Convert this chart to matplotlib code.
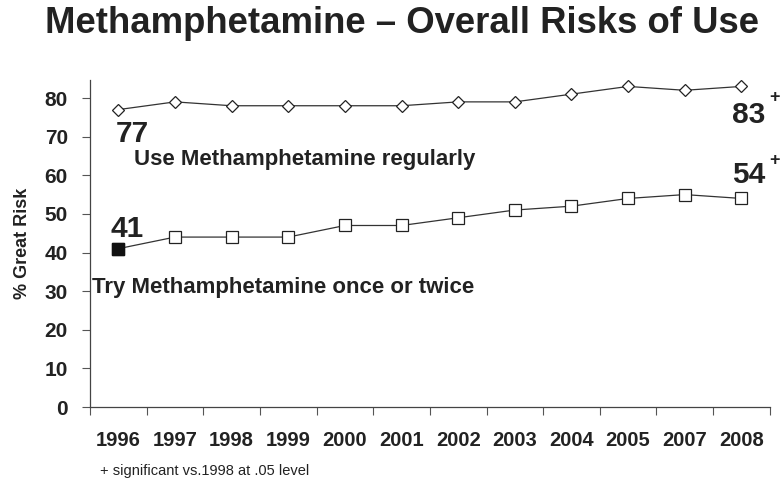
import matplotlib
matplotlib.use("Agg")
import matplotlib.pyplot as plt
import numpy as np

plt.rcParams['font.family'] = ['Liberation Sans', 'DejaVu Sans']

years = ["1996", "1997", "1998", "1999", "2000", "2001", "2002", "2003", "2004", "2005", "2007", "2008"]
regularly = [77, 79, 78, 78, 78, 78, 79, 79, 81, 83, 82, 83]
once_twice = [41, 44, 44, 44, 47, 47, 49, 51, 52, 54, 55, 54]

fig = plt.figure(figsize=(7.83, 4.84), dpi=100)
ax = fig.add_axes([0.115, 0.159, 0.868, 0.676])
x = np.arange(len(years))

ax.plot(x, regularly, color='#333333', lw=0.9, marker='D', ms=6.2, mfc='white', mec='#222222', mew=0.9)
ax.plot(x, once_twice, color='#333333', lw=0.9, marker='s', ms=8, mfc='white', mec='#222222', mew=0.9)
ax.plot(x[0], once_twice[0], marker='s', ms=8.3, mfc='#111111', mec='#111111', ls='none')

ax.set_xlim(-0.5, len(years) - 0.5)
ax.set_ylim(0, 84.7)
ax.set_yticks(range(0, 90, 10))
ax.set_yticklabels([str(v) for v in range(0, 90, 10)], fontsize=15, fontweight='bold', color='#222222')
ax.set_xticks(np.arange(len(years) + 1) - 0.5)
ax.set_xticklabels([])
ax.set_xticks(x, minor=True)
ax.set_xticklabels(years, minor=True, fontsize=14.5, fontweight='bold', color='#222222')
ax.tick_params(axis='x', which='minor', length=0, pad=17)
ax.tick_params(axis='x', which='major', length=6, direction='out', color='#555555')
ax.tick_params(axis='y', length=6, direction='out', color='#555555', pad=10)
for s in ['top', 'right']:
    ax.spines[s].set_visible(False)
for s in ['left', 'bottom']:
    ax.spines[s].set_color('#444444')
    ax.spines[s].set_linewidth(0.9)

ax.set_ylabel('% Great Risk', fontsize=13, fontweight='bold', color='#222222', labelpad=10)

fig.text(0.514, 0.932, 'Methamphetamine \u2013 Overall Risks of Use', ha='center', va='baseline',
         fontsize=26.3, fontweight='bold', color='#222222')

tk = dict(fontweight='bold', color='#222222')
nfs = 21.5
ax.text(x[0] - 0.05, 68.6, '77', ha='left', va='baseline', fontsize=nfs, **tk)
ax.text(x[-1] - 0.16, 73.5, '83', ha='left', va='baseline', fontsize=nfs, **tk)
ax.text(x[-1] + 0.58, 79.0, '+', ha='center', va='baseline', fontsize=13, **tk)
ax.text(x[0] - 0.14, 44.0, '41', ha='left', va='baseline', fontsize=nfs, **tk)
ax.text(x[-1] - 0.16, 58.0, '54', ha='left', va='baseline', fontsize=nfs, **tk)
ax.text(x[-1] + 0.58, 62.65, '+', ha='center', va='baseline', fontsize=13, **tk)
ax.text(0.27, 62.65, 'Use Methamphetamine regularly', ha='left', va='baseline', fontsize=16, **tk)
ax.text(-0.47, 29.5, 'Try Methamphetamine once or twice', ha='left', va='baseline', fontsize=16, **tk)

fig.text(0.128, 0.0186, '+ significant vs.1998 at .05 level', ha='left', va='baseline', fontsize=10.5, color='#222222')

fig.savefig('out.png', dpi=100)
